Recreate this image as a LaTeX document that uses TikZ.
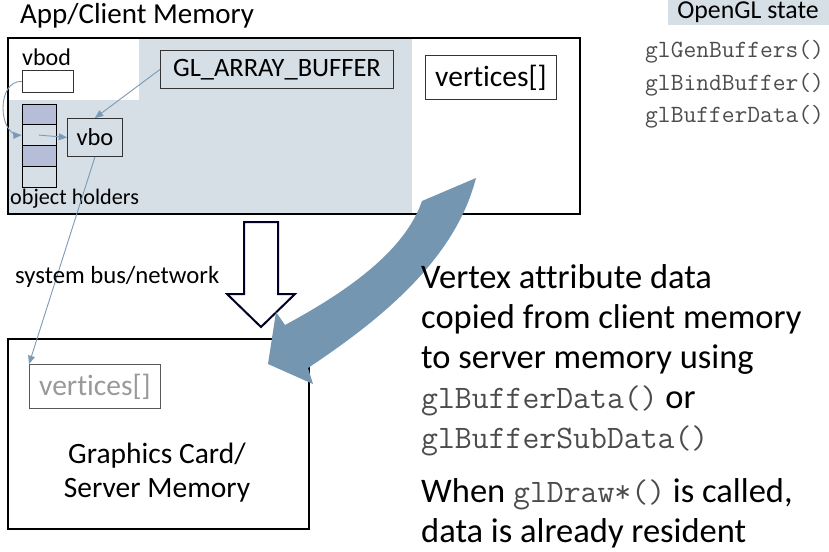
\documentclass[tikz,border=0pt]{standalone}
\usepackage{fontspec}
\setmainfont[Ligatures=NoCommon]{Carlito}
\usetikzlibrary{arrows}
\definecolor{statebg}{RGB}{214,222,230}
\definecolor{holderfill}{RGB}{182,189,215}
\definecolor{copyblue}{RGB}{117,150,176}
\definecolor{linkblue}{RGB}{122,154,181}

\begin{document}
\begin{tikzpicture}[line join=miter,>=triangle 45,x=1pt,y=-1pt,
    membox/.style={draw=black,line width=2pt,anchor=north west,inner sep=0pt},
    smallbox/.style={draw=black!80,line width=0.9pt,anchor=north west,inner sep=0pt},
    cell/.style={draw=black,line width=0.9pt,minimum width=34pt,minimum height=20.75pt,inner sep=0pt},
    link/.style={draw=linkblue,line width=0.9pt},
    fs/.style={font=\fontsize{#1}{#1}\selectfont}]
    \useasboundingbox (0,0) rectangle (829,551);
    % client memory
    \fill[statebg] (7,37) rectangle (412,213);
    \fill[white] (7,37) rectangle (139,100);
    \node[membox,minimum width=572pt,minimum height=176pt] (client) at (7,37) {};
    \node[anchor=base west,fs=29,inner sep=0pt] (clienttitle) at (20,24) {App/Client Memory};
    \node[anchor=base west,fs=24,inner sep=0pt] (vbodlabel) at (22,65) {vbod};
    \node[smallbox,fill=white,minimum width=51pt,minimum height=22pt] (vbod) at (22,70) {};
    \node[smallbox,minimum width=233pt,minimum height=38pt,fs=26.5] (arraybuf) at (160,50) {GL\_ARRAY\_BUFFER};
    \node[smallbox,fill=white,minimum width=131pt,minimum height=44pt,fs=29.5] (clientvert) at (425,55) {vertices[]};
    \foreach \i/\c in {1/holderfill,2/statebg,3/holderfill,4/statebg}
    \node[cell,fill=\c] (h\i) at (39,93.6+20.75*\i) {};
    \node[smallbox,minimum width=55pt,minimum height=38pt,fs=24.5] (vbo) at (67,118) {vbo};
    \node[anchor=base west,fs=22.2,inner sep=0pt] (holderlabel) at (10,204) {object holders};
    \draw[link,->] (vbod.west) .. controls (-4,80) and (-2,136) .. (h2.west);
    \draw[link,->] (h2.center) -- (vbo.west);
    \draw[link,->] (arraybuf.west) -- (vbo.north);
    % server memory
    \node[membox,minimum width=301pt,minimum height=190pt] (server) at (7,338) {};
    \node[smallbox,draw=black!65,text=black!40,minimum width=131pt,minimum height=44pt,fs=29.5] (serververt) at (29,364) {vertices[]};
    \node[anchor=base,align=center,font=\fontsize{29.5}{34}\selectfont] (serverlabel) at (157,497) {Graphics Card/\\Server Memory};
    \draw[link,->] (vbo.south) -- (serververt.north west);
    % bus
    \draw[line width=2pt,draw=black!85!blue,fill=white] (244,222) -- (278,222) -- (278,294) -- (295,294)
        -- (261,327) -- (227,294) -- (244,294) -- cycle;
    \node[anchor=base west,fs=24.7,inner sep=0pt] (buslabel) at (15,283) {system bus/network};
    % copy arrow
    \fill[copyblue] (476,178) .. controls (455,260) and (380,320) .. (308,368) -- (313,384) -- (268,364)
        -- (276,312) -- (285,325) .. controls (350,290) and (405,250) .. (422,201) -- cycle;
    \node[anchor=base west,align=left,inner sep=0pt,font=\fontsize{34.5}{40}\selectfont] (copynote) at (421,448)
        {Vertex attribute data\\copied from client memory\\to server memory using\\
        {\ttfamily\fontsize{32.8}{40}\selectfont\color{black!70}glBufferData()} or\\
        {\ttfamily\fontsize{32.8}{40}\selectfont\color{black!70}glBufferSubData()}};
    \node[anchor=base west,align=left,inner sep=0pt,font=\fontsize{34.5}{40}\selectfont] (drawnote) at (421,542)
        {When {\ttfamily\fontsize{32.8}{40}\selectfont\color{black!70}glDraw*()} is called,\\data is already resident};
    % opengl state
    \node[fill=statebg,anchor=north west,minimum width=161pt,minimum height=25pt,inner sep=0pt] (statehead) at (668,0) {};
    \node[anchor=base,inner sep=0pt,fs=25.8] (statelabel) at (748,19) {OpenGL state};
    \foreach \f [count=\i] in {{glGenBuffers()},{glBindBuffer()},{glBufferData()}}
    \node[anchor=base west,inner sep=0pt,text=black!70,font=\ttfamily\fontsize{24.8}{25}\selectfont] (call\i) at (645,26+32*\i) {\f};
\end{tikzpicture}
\end{document}
